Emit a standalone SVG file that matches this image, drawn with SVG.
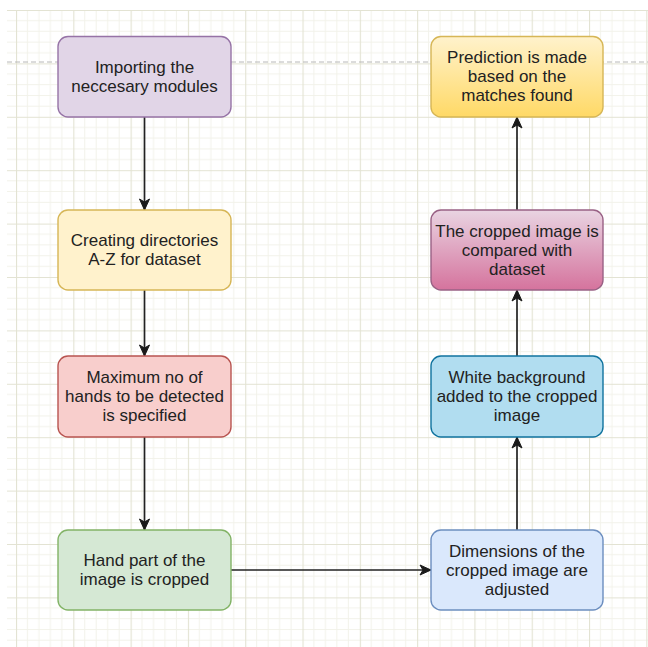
<svg xmlns="http://www.w3.org/2000/svg" width="648" height="647" viewBox="0 0 648 647">
<defs>
<pattern id="grid" x="16" y="10" width="57.3" height="53.4" patternUnits="userSpaceOnUse">
<path d="M11.46 0V53.4M22.92 0V53.4M34.38 0V53.4M45.84 0V53.4M0 10.68H57.3M0 21.36H57.3M0 32.04H57.3M0 42.72H57.3" stroke="#f2f2ea" stroke-width="1" fill="none"/>
<path d="M0.5 0V53.4M0 0.5H57.3" stroke="#e3e3d3" stroke-width="1.2" fill="none"/>
</pattern>
<linearGradient id="gPink" x1="0" y1="0" x2="0" y2="1">
<stop offset="0" stop-color="#e9d4e2"/>
<stop offset="1" stop-color="#d5739d"/>
</linearGradient>
<linearGradient id="gGold" x1="0" y1="0" x2="0" y2="1">
<stop offset="0" stop-color="#fff2cc"/>
<stop offset="1" stop-color="#ffd966"/>
</linearGradient>
<marker id="arr" markerUnits="userSpaceOnUse" markerWidth="13" markerHeight="13" viewBox="0 0 13 13" refX="12" refY="6.5" orient="auto">
<path d="M1 1.5L12 6.5L1 11.5L4 6.5Z" fill="#1a1a1a" stroke="#1a1a1a" stroke-width="1"/>
</marker>
<style>
.n{stroke-width:1.4}
.t{font-family:"Liberation Sans",Arial,sans-serif;font-size:17px;fill:#222222;text-anchor:middle}
.c{stroke:#222222;stroke-width:1.7;fill:none;marker-end:url(#arr)}
</style>
</defs>
<rect width="648" height="647" fill="#ffffff"/>
<rect x="7" y="10" width="641" height="637" fill="url(#grid)"/>
<line x1="7" y1="62" x2="648" y2="62" stroke="#b8b8b8" stroke-width="1" stroke-dasharray="5 3"/>

<g id="connectors">
<path class="c" d="M144.5 117V210"/>
<path class="c" d="M144.5 290V356"/>
<path class="c" d="M144.5 437V530"/>
<path class="c" d="M231 570H431"/>
<path class="c" d="M517 530V437"/>
<path class="c" d="M517 356V290"/>
<path class="c" d="M517 210V117"/>
</g>

<g id="n1">
<rect class="n" x="58" y="36.5" width="173" height="80.5" rx="10" fill="#e1d5e7" stroke="#9673a6"/>
<text class="t" x="144.5" y="72.7">Importing the</text>
<text class="t" x="144.5" y="91.7">neccesary modules</text>
</g>
<g id="n2">
<rect class="n" x="58" y="210" width="173" height="80" rx="10" fill="#fff2cc" stroke="#d6b656"/>
<text class="t" x="144.5" y="246.2">Creating directories</text>
<text class="t" x="144.5" y="265.2">A-Z for dataset</text>
</g>
<g id="n3">
<rect class="n" x="58" y="356" width="173" height="81" rx="10" fill="#f8cecc" stroke="#b85450"/>
<text class="t" x="144.5" y="383">Maximum no of</text>
<text class="t" x="144.5" y="402.2">hands to be detected</text>
<text class="t" x="144.5" y="421.4">is specified</text>
</g>
<g id="n4">
<rect class="n" x="58" y="530" width="173" height="80" rx="10" fill="#d5e8d4" stroke="#82b366"/>
<text class="t" x="144.5" y="566.2">Hand part of the</text>
<text class="t" x="144.5" y="585.2">image is cropped</text>
</g>
<g id="n5">
<rect class="n" x="431" y="530" width="172" height="80" rx="10" fill="#dae8fc" stroke="#6c8ebf"/>
<text class="t" x="517" y="556.5">Dimensions of the</text>
<text class="t" x="517" y="575.7">cropped image are</text>
<text class="t" x="517" y="594.9">adjusted</text>
</g>
<g id="n6">
<rect class="n" x="431" y="356" width="172" height="81" rx="10" fill="#b1ddf0" stroke="#10739e"/>
<text class="t" x="517" y="383">White background</text>
<text class="t" x="517" y="402.2">added to the cropped</text>
<text class="t" x="517" y="421.4">image</text>
</g>
<g id="n7">
<rect class="n" x="431" y="210" width="172" height="80" rx="10" fill="url(#gPink)" stroke="#996185"/>
<text class="t" x="517" y="236.5">The cropped image is</text>
<text class="t" x="517" y="255.7">compared with</text>
<text class="t" x="517" y="274.9">dataset</text>
</g>
<g id="n8">
<rect class="n" x="431" y="36.5" width="172" height="80.5" rx="10" fill="url(#gGold)" stroke="#d6b656"/>
<text class="t" x="517" y="63">Prediction is made</text>
<text class="t" x="517" y="82.2">based on the</text>
<text class="t" x="517" y="101.4">matches found</text>
</g>
</svg>
